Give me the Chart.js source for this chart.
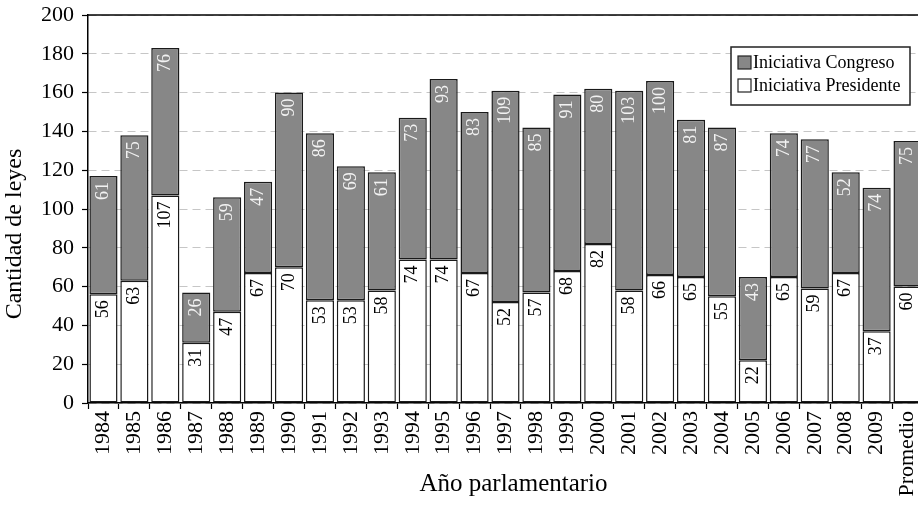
<!DOCTYPE html>
<html>
<head>
<meta charset="utf-8">
<script src="https://cdn.jsdelivr.net/npm/chart.js@4.4.1/dist/chart.umd.min.js"></script>
<style>
    html, body { margin: 0; padding: 0; background: #fff; overflow: hidden; }
    #wrap { width: 923px; height: 505px; }
</style>
</head>
<body>
<div id="wrap"><canvas id="leyesChart" width="923" height="505"></canvas></div>
<script>
const years = ['1984', '1985', '1986', '1987', '1988', '1989', '1990', '1991', '1992', '1993',
    '1994', '1995', '1996', '1997', '1998', '1999', '2000', '2001', '2002', '2003',
    '2004', '2005', '2006', '2007', '2008', '2009', 'Promedio'];
const presidente = [56, 63, 107, 31, 47, 67, 70, 53, 53, 58, 74, 74, 67, 52, 57, 68, 82, 58, 66, 65, 55, 22, 65, 59, 67, 37, 60];
const congreso = [61, 75, 76, 26, 59, 47, 90, 86, 69, 61, 73, 93, 83, 109, 85, 91, 80, 103, 100, 81, 87, 43, 74, 77, 52, 74, 75];
const yTicks = [0, 20, 40, 60, 80, 100, 120, 140, 160, 180, 200];
const xTitle = 'Año parlamentario';
const yTitle = 'Cantidad de leyes';

const serif = "'Liberation Serif', 'Times New Roman', serif";
Chart.defaults.font.family = serif;
Chart.defaults.color = '#000';

// numbers written inside each segment, rotated
const barLabels = {
    id: 'barLabels',
    afterDatasetsDraw(chart) {
        const c = chart.ctx;
        chart.data.datasets.forEach((ds, i) => {
            const meta = chart.getDatasetMeta(i);
            meta.data.forEach((bar, j) => {
                c.save();
                c.translate(bar.x, bar.y + 6);
                c.rotate(-Math.PI / 2);
                c.font = '18px ' + serif;
                c.fillStyle = ds.labelColor;
                c.textAlign = 'right';
                c.textBaseline = 'middle';
                c.fillText(String(ds.data[j]), 0, 0);
                c.restore();
            });
        });
    }
};

// top frame line, axis titles, boxed legend in the upper right
const frame = {
    id: 'frame',
    afterDraw(chart) {
        const c = chart.ctx;
        const area = chart.chartArea;
        c.save();
        c.strokeStyle = '#000';
        c.lineWidth = 1.5;
        c.beginPath();
        c.moveTo(area.left, area.top);
        c.lineTo(area.right, area.top);
        c.stroke();

        // axis titles
        c.fillStyle = '#000';
        c.textAlign = 'center';
        c.font = '25px ' + serif;
        c.textBaseline = 'alphabetic';
        c.fillText(xTitle, (area.left + area.right) / 2 + 8, area.bottom + 88);
        c.save();
        c.translate(15, (area.top + area.bottom) / 2 + 25);
        c.rotate(-Math.PI / 2);
        c.font = '24px ' + serif;
        c.textBaseline = 'middle';
        c.fillText(yTitle, 0, 0);
        c.restore();

        const bx = area.right - 192, by = area.top + 32, bw = 179, bh = 58;
        c.fillStyle = '#fff';
        c.fillRect(bx, by, bw, bh);
        c.lineWidth = 1.5;
        c.strokeStyle = '#222';
        c.strokeRect(bx, by, bw, bh);

        const items = chart.data.datasets.slice().reverse();
        c.font = '18px ' + serif;
        c.textBaseline = 'middle';
        c.textAlign = 'left';
        items.forEach((ds, k) => {
            const y = by + 9 + k * 23;
            c.fillStyle = ds.backgroundColor;
            c.fillRect(bx + 7, y, 13, 13);
            c.lineWidth = 1.2;
            c.strokeStyle = '#222';
            c.strokeRect(bx + 7, y, 13, 13);
            c.fillStyle = '#000';
            c.fillText(ds.label, bx + 22, y + 7);
        });
        c.restore();
    }
};

const ctx = document.getElementById('leyesChart').getContext('2d');
new Chart(ctx, {
    type: 'bar',
    data: {
        labels: years,
        datasets: [
            {
                label: 'Iniciativa Presidente',
                data: presidente,
                backgroundColor: '#ffffff',
                borderColor: '#1a1a1a',
                borderWidth: 1.5,
                borderSkipped: false,
                labelColor: '#000'
            },
            {
                label: 'Iniciativa Congreso',
                data: congreso,
                backgroundColor: '#878787',
                borderColor: '#1a1a1a',
                borderWidth: 1.5,
                borderSkipped: false,
                labelColor: '#f2f2f2'
            }
        ]
    },
    options: {
        responsive: false,
        animation: false,
        barPercentage: 0.91,
        categoryPercentage: 1,
        layout: { padding: { top: 15, right: 0, left: 0, bottom: 0 } },
        plugins: {
            legend: { display: false },
            tooltip: { enabled: false }
        },
        scales: {
            x: {
                stacked: true,
                offset: true,
                grid: {
                    offset: true,
                    drawOnChartArea: false,
                    tickLength: 6,
                    tickColor: '#000',
                    tickWidth: 1.2
                },
                border: { color: '#000', width: 1.5 },
                ticks: {
                    autoSkip: false,
                    maxRotation: 90,
                    minRotation: 90,
                    padding: 2,
                    font: { size: 22 }
                },
                afterFit(scale) {
                    scale.height = 102;
                    scale.paddingLeft = 0;
                    scale.paddingRight = 0;
                }
            },
            y: {
                stacked: true,
                min: 0,
                max: 200,
                afterBuildTicks(scale) {
                    scale.ticks = yTicks.map(v => ({ value: v }));
                },
                grid: {
                    color: '#c6c6c6',
                    lineWidth: 1,
                    tickLength: 6,
                    tickColor: '#000',
                    tickWidth: 1.2
                },
                border: { color: '#000', width: 1.5, dash: [8, 5] },
                ticks: {
                    padding: 8,
                    font: { size: 22 }
                },
                afterFit(scale) {
                    scale.width = 88;
                    scale.paddingTop = 0;
                    scale.paddingBottom = 0;
                }
            }
        }
    },
    plugins: [barLabels, frame]
});
</script>
</body>
</html>
